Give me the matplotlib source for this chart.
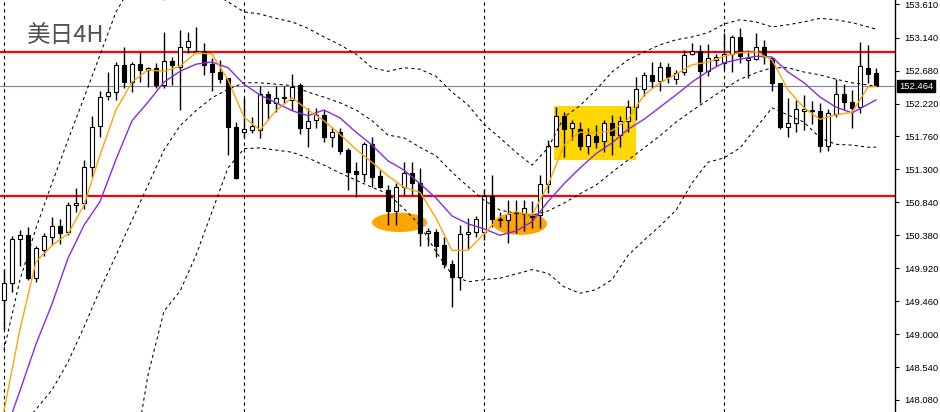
import matplotlib
matplotlib.use("Agg")
import matplotlib.pyplot as plt
from matplotlib.patches import Rectangle, Ellipse
import numpy as np

plt.rcParams['font.family'] = ['Noto Sans CJK SC', 'DejaVu Sans']

# USDJPY 4H candles
opens = [149.48, 149.71, 150.33, 150.38, 149.78, 150.17, 150.36, 150.51, 150.43, 150.80,
         150.83, 151.33, 151.91, 152.33, 152.38, 152.76, 152.52, 152.77, 152.69, 152.72,
         152.48, 152.81, 152.73, 153.01, 152.95, 152.95, 152.77, 152.66, 152.58, 151.89,
         151.82, 151.85, 151.85, 152.35, 152.23, 152.30, 152.27, 152.48, 151.88, 151.99,
         152.06, 151.75, 151.82, 151.57, 151.28, 151.24, 151.66, 151.21, 151.01, 150.72,
         151.05, 151.25, 151.11, 150.41, 150.43, 150.24, 149.98, 149.80, 150.40, 150.43,
         150.43, 150.93, 150.61, 150.59, 150.69, 150.69, 150.65, 150.66, 151.10, 151.63,
         152.05, 151.88, 151.86, 151.63, 151.77, 151.70, 151.95, 151.78, 151.98, 152.17,
         152.42, 152.62, 152.54, 152.73, 152.56, 152.66, 152.91, 152.95, 152.67, 152.83,
         152.79, 152.91, 153.15, 152.83, 152.84, 153.01, 152.86, 152.51, 151.89, 151.95,
         152.12, 152.13, 152.12, 151.63, 152.07, 152.35, 152.24, 152.17, 152.72, 152.65]
closes = [149.71, 150.33, 150.38, 149.78, 150.20, 150.37, 150.51, 150.41, 150.80, 150.83,
          151.33, 151.89, 152.31, 152.38, 152.76, 152.52, 152.77, 152.69, 152.72, 152.48,
          152.81, 152.76, 153.01, 153.09, 152.94, 152.76, 152.66, 152.56, 151.89, 151.18,
          151.86, 151.91, 152.35, 152.23, 152.30, 152.31, 152.45, 151.88, 151.98, 152.06,
          151.75, 151.82, 151.56, 151.26, 151.24, 151.66, 151.19, 151.05, 150.72, 151.05,
          151.25, 151.11, 150.41, 150.44, 150.23, 149.98, 149.80, 150.40, 150.43, 150.61,
          150.93, 150.61, 150.60, 150.68, 150.70, 150.76, 150.64, 151.10, 151.63, 152.05,
          151.86, 151.95, 151.63, 151.78, 151.68, 151.95, 151.78, 151.98, 152.17, 152.42,
          152.62, 152.54, 152.73, 152.59, 152.65, 152.90, 152.95, 152.67, 152.86, 152.87,
          152.91, 153.15, 152.88, 152.86, 153.01, 152.90, 152.51, 151.89, 151.95, 152.14,
          152.14, 152.12, 151.63, 152.09, 152.35, 152.24, 152.16, 152.74, 152.63, 152.464]
highs = [149.90, 150.37, 150.45, 150.50, 150.23, 150.41, 150.64, 150.61, 150.85, 151.04,
         151.43, 152.05, 152.39, 152.66, 152.80, 153.01, 152.80, 152.94, 152.73, 152.79,
         153.22, 152.87, 153.25, 153.22, 153.29, 153.07, 152.86, 152.83, 152.58, 151.96,
         152.30, 152.03, 152.47, 152.39, 152.47, 152.47, 152.63, 152.51, 152.16, 152.16,
         152.13, 151.89, 151.88, 151.60, 151.40, 151.68, 151.75, 151.29, 151.08, 151.11,
         151.40, 151.40, 151.32, 150.48, 150.47, 150.36, 150.04, 150.52, 150.62, 150.65,
         151.01, 151.22, 150.71, 150.87, 150.87, 150.87, 150.86, 151.22, 151.71, 152.17,
         152.10, 151.99, 151.96, 151.88, 151.92, 151.99, 152.06, 152.05, 152.27, 152.59,
         152.66, 152.80, 152.80, 152.79, 152.69, 152.97, 153.07, 153.04, 153.05, 152.91,
         153.21, 153.18, 153.27, 152.97, 153.21, 153.11, 152.87, 152.51, 152.30, 152.27,
         152.34, 152.26, 152.23, 152.14, 152.56, 152.49, 152.41, 153.08, 153.04, 152.72]
lows = [149.06, 149.59, 149.95, 149.76, 149.73, 150.09, 150.24, 150.26, 150.38, 150.71,
        150.75, 151.19, 151.75, 152.27, 152.27, 152.44, 152.38, 152.52, 152.45, 152.44,
        152.44, 152.48, 152.13, 152.93, 152.93, 152.62, 152.39, 152.51, 151.50, 151.17,
        151.75, 151.81, 151.74, 151.99, 152.10, 152.23, 152.13, 151.79, 151.61, 151.88,
        151.68, 151.61, 151.52, 151.01, 150.91, 151.12, 151.05, 151.04, 150.52, 150.52,
        150.94, 150.94, 150.23, 150.23, 150.08, 149.92, 149.38, 149.62, 150.19, 150.36,
        150.31, 150.50, 150.50, 150.27, 150.41, 150.44, 150.48, 150.48, 150.97, 151.61,
        151.47, 151.71, 151.57, 151.52, 151.60, 151.54, 151.50, 151.61, 151.82, 151.99,
        152.33, 152.44, 152.39, 152.51, 152.49, 152.62, 152.90, 152.23, 152.60, 152.74,
        152.69, 152.66, 152.79, 152.58, 152.83, 152.77, 152.39, 151.86, 151.75, 151.82,
        151.85, 151.93, 151.54, 151.56, 152.03, 152.13, 151.88, 152.09, 152.51, 152.46]

# indicator lines, read every second candle (plus the last one)
ind_idx = list(range(0, 110, 2)) + [109]
ma_fast = [147.93, 149.07, 150.01, 150.24, 150.40, 150.80, 151.50, 152.13, 152.52, 152.69,
           152.67, 152.74, 152.93, 152.91, 152.55, 152.03, 151.85, 152.12, 152.30, 152.13,
           151.98, 151.79, 151.58, 151.40, 151.21, 151.05, 150.98, 150.62, 150.17, 150.17,
           150.40, 150.64, 150.71, 150.66, 151.08, 151.64, 151.82, 151.81, 151.84, 152.00,
           152.34, 152.51, 152.63, 152.76, 152.80, 152.88, 152.93, 152.94, 152.83, 152.41,
           152.16, 152.00, 152.06, 152.10, 152.45, 152.46]
ma_slow = [147.58, 148.21, 148.86, 149.42, 150.06, 150.52, 150.85, 151.44, 151.98, 152.24,
           152.52, 152.67, 152.77, 152.80, 152.72, 152.49, 152.34, 152.23, 152.12, 152.05,
           152.13, 152.02, 151.82, 151.64, 151.42, 151.29, 151.10, 150.90, 150.65, 150.54,
           150.47, 150.38, 150.44, 150.57, 150.85, 151.10, 151.32, 151.52, 151.67, 151.86,
           152.00, 152.17, 152.34, 152.52, 152.67, 152.79, 152.84, 152.88, 152.87, 152.66,
           152.51, 152.31, 152.17, 152.09, 152.21, 152.27]
bb_upper = [148.78, 149.76, 150.48, 151.11, 151.71, 152.30, 152.90, 153.50, 153.88, 153.69,
            153.67, 153.78, 153.83, 153.78, 153.64, 153.50, 153.47, 153.41, 153.36, 153.27,
            153.15, 153.04, 152.91, 152.72, 152.67, 152.72, 152.70, 152.60, 152.38, 152.20,
            151.93, 151.74, 151.54, 151.36, 151.60, 152.03, 152.19, 152.41, 152.66, 152.83,
            152.94, 153.04, 153.11, 153.15, 153.21, 153.33, 153.39, 153.36, 153.29, 153.32,
            153.36, 153.41, 153.39, 153.35, 153.29, 153.26]
bb_mid = [147.45, 147.69, 147.95, 148.22, 148.61, 149.10, 149.62, 150.10, 150.59, 151.08,
          151.57, 151.91, 152.12, 152.30, 152.42, 152.51, 152.51, 152.49, 152.47, 152.38,
          152.31, 152.23, 152.13, 151.98, 151.78, 151.74, 151.61, 151.49, 151.26, 151.06,
          150.87, 150.73, 150.69, 150.66, 150.72, 150.83, 150.96, 151.08, 151.26, 151.43,
          151.60, 151.77, 151.96, 152.12, 152.27, 152.42, 152.56, 152.65, 152.72, 152.72,
          152.66, 152.62, 152.56, 152.51, 152.48, 152.46]
nan = float('nan')
bb_lower = [nan, nan, nan, nan, nan, nan, nan, nan, 147.10, 148.43,
            149.32, 149.60, 150.10, 150.71, 151.32, 151.59, 151.60, 151.57, 151.54, 151.46,
            151.36, 151.25, 151.15, 151.05, 150.96, 150.75, 150.52, 150.15, 149.83, 149.73,
            149.76, 149.78, 149.84, 149.90, 149.85, 149.66, 149.57, 149.62, 149.76, 150.10,
            150.31, 150.51, 150.73, 151.11, 151.40, 151.46, 151.60, 151.88, 152.16, 152.06,
            151.96, 151.74, 151.65, 151.64, 151.61, 151.61]

levels = [152.944, 150.933]
last_price = 152.464
week_starts = [0, 30, 60, 90]
price_ticks = [153.610, 153.140, 152.680, 152.220, 151.760, 151.300, 150.840,
               150.380, 149.920, 149.460, 149.000, 148.540, 148.080]

fig = plt.figure(figsize=(9.4, 4.12), dpi=100)
ax = fig.add_axes([0, 0, 895 / 940, 1])

x = np.arange(len(opens))
o = np.array(opens)
c = np.array(closes)
up = c >= o

# annotations behind the candles
ax.add_patch(Rectangle((68.8, 151.43), 10.25, 0.755, facecolor='#FFD700', edgecolor='none', zorder=1))
ax.add_patch(Ellipse((49.45, 150.56), 6.9, 0.27, facecolor='#FFA500', edgecolor='none', zorder=1))
ax.add_patch(Ellipse((64.5, 150.54), 6.75, 0.31, facecolor='#FFA500', edgecolor='none', zorder=1))

for lv in levels:
    ax.axhline(lv, color='#FF0000', lw=1.6, zorder=2)
ax.axhline(last_price, color='#778899', lw=0.8, zorder=2)
for w in week_starts:
    ax.axvline(w, color='black', lw=0.8, ls=(0, (3, 3)), zorder=2)

# candles
ax.vlines(x, lows, highs, color='black', lw=1, zorder=3)
body = np.maximum(np.abs(c - o), 0.004)
ax.bar(x[up], body[up], bottom=np.minimum(o, c)[up], width=0.62,
       color='white', edgecolor='black', linewidth=0.8, zorder=4)
ax.bar(x[~up], body[~up], bottom=np.minimum(o, c)[~up], width=0.62,
       color='black', edgecolor='black', linewidth=0.8, zorder=4)

# indicators
dash = (0, (3, 3))
ax.plot(ind_idx, bb_upper, color='black', lw=0.75, ls=dash, zorder=5)
ax.plot(ind_idx, bb_mid, color='black', lw=0.75, ls=dash, zorder=5)
ax.plot(ind_idx, bb_lower, color='black', lw=0.75, ls=dash, zorder=5)
ax.plot(ind_idx, ma_slow, color='#8A2BE2', lw=1, zorder=6)
ax.plot(ind_idx, ma_fast, color='#FFA500', lw=1, zorder=6)

ax.set_xlim(-0.5, 111.375)
ax.set_ylim(147.912, 153.666)

for s in ['left', 'top', 'bottom']:
    ax.spines[s].set_visible(False)
ax.spines['right'].set_linewidth(1)
ax.set_xticks([])
ax.yaxis.tick_right()
ax.set_yticks(price_ticks)
ax.set_yticklabels(['%.3f' % p for p in price_ticks], family='Liberation Sans', fontsize=6.8)
ax.tick_params(axis='y', direction='out', length=3, width=0.8, pad=4)

ax.text(1 + 4 / 895, last_price, '%.3f' % last_price, transform=ax.get_yaxis_transform(),
        ha='left', va='center', color='white', fontsize=6.8, family='Liberation Sans',
        bbox=dict(boxstyle='square,pad=0.2', fc='black', ec='black'), zorder=10, clip_on=False)

fig.text(27 / 940, 1 - 36 / 412, '美日4H', fontsize=17, color='#505050', va='center', ha='left')

fig.savefig('out.png', dpi=100)
